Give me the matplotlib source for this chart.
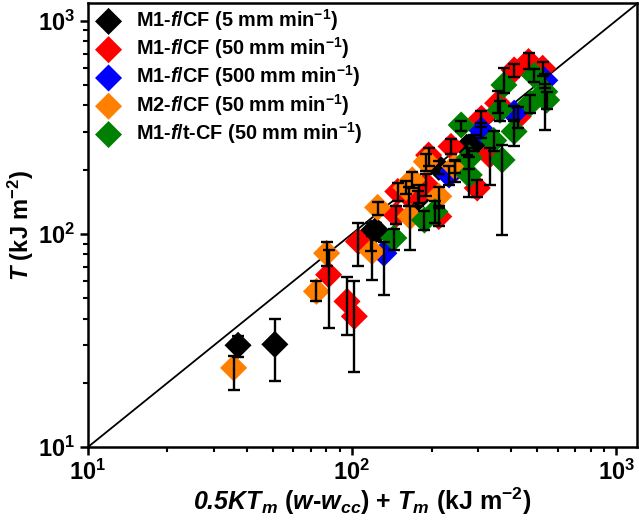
import matplotlib
matplotlib.use("Agg")
import matplotlib.pyplot as plt
from matplotlib.ticker import FixedLocator, FixedFormatter, LogLocator, NullFormatter
import numpy as np

plt.rcParams['font.family'] = ['Liberation Sans', 'DejaVu Sans']
plt.rcParams['font.weight'] = 'bold'
plt.rcParams['mathtext.fontset'] = 'custom'
plt.rcParams['mathtext.rm'] = 'Liberation Sans:bold'
plt.rcParams['mathtext.bf'] = 'Liberation Sans:bold'
plt.rcParams['mathtext.it'] = 'Liberation Sans:bold:italic'
plt.rcParams['mathtext.sf'] = 'Liberation Sans:bold:italic'
plt.rcParams['mathtext.default'] = 'rm'

# ---- data ----
labels = [r'M1-$\mathsf{f}$/CF (5 mm min$^{-1}$)',
          r'M1-$\mathsf{f}$/CF (50 mm min$^{-1}$)',
          r'M1-$\mathsf{f}$/CF (500 mm min$^{-1}$)',
          r'M2-$\mathsf{f}$/CF (50 mm min$^{-1}$)',
          r'M1-$\mathsf{f}$/t-CF (50 mm min$^{-1}$)']
colors = ['#000000', '#ff0000', '#0000ff', '#ff8000', '#008000']

black_x = [37, 51, 118, 123, 178, 213, 272, 290]
black_y = [30, 30.3, 101, 104, 147, 205, 255, 265]
black_lo = [3.5, 10, 18, 10, 12, 15, 20, 20]
black_hi = [3, 9.5, 12, 8, 12, 15, 20, 25]

red_x = [81.5, 95.7, 102, 105.7, 146.6, 149, 165, 191, 195, 213, 237, 245,
         298, 332, 309, 356, 411, 466, 527, 426, 180]
red_y = [64.3, 48.2, 41, 92, 122.7, 158, 150, 170, 234, 120.5, 257, 200,
         164, 234, 348, 410, 587, 643, 598, 355, 155]
red_lo = [28.2, 14.6, 18.4, 21.7, 12, 15, 15, 20, 25, 12, 20, 25,
          15, 64, 30, 40, 40, 50, 50, 40, 15]
red_hi = [19.7, 14.8, 18.8, 20, 12, 15, 15, 20, 20, 12, 20, 20,
          15, 20, 30, 60, 40, 60, 40, 40, 15]

blue_x = [132, 233, 309, 411, 537]
blue_y = [81.1, 189, 307, 368, 525]
blue_lo = [29.3, 20, 25, 30, 40]
blue_hi = [10, 20, 25, 30, 40]

orange_x = [35.6, 73.3, 80.1, 119, 125, 166, 169, 191, 213, 245, 160]
orange_y = [23.5, 53.7, 81.1, 82.6, 133, 120.5, 179, 218, 150, 207, 165]
orange_lo = [4.9, 5.5, 10.8, 21.8, 10, 36.5, 15, 20, 15, 15, 12]
orange_hi = [3.1, 6.1, 10.9, 15, 8, 15, 15, 20, 15, 15, 12]

green_x = [144, 188, 206, 259, 278, 278, 344, 370, 376, 363, 411, 474, 490, 537, 546]
green_y = [95.6, 116, 127, 324, 227, 189, 274, 222, 499, 380, 302, 410, 554, 464, 424]
green_lo = [12, 12, 15, 20, 25, 40, 30, 123, 40, 40, 45, 40, 40, 157, 40]
green_hi = [10, 12, 15, 15, 25, 40, 30, 40, 99, 40, 40, 40, 40, 40, 40]

line_x = [10, 1200]

xticks = [10, 100, 1000]
xticklabels = [r'$10^{1}$', r'$10^{2}$', r'$10^{3}$']
yticks = [10, 100, 1000]
yticklabels = [r'$10^{1}$', r'$10^{2}$', r'$10^{3}$']

series = [
    (black_x, black_y, black_lo, black_hi),
    (red_x, red_y, red_lo, red_hi),
    (blue_x, blue_y, blue_lo, blue_hi),
    (orange_x, orange_y, orange_lo, orange_hi),
    (green_x, green_y, green_lo, green_hi),
]

fig = plt.figure(figsize=(6.39, 5.29), dpi=100)
ax = fig.add_axes([88/639, 1 - 447/529, 549/639, 444/529])

ax.plot(line_x, line_x, color='black', lw=1.3, zorder=1)

handles = []
for (x, y, lo, hi), c, lab in zip(series, colors, labels):
    h = ax.scatter(x, y, marker='D', s=190, color=c, edgecolors='none',
                   zorder=2, label=lab)
    ax.errorbar(x, y, yerr=[lo, hi], fmt='none', ecolor='black',
                elinewidth=1.7, capsize=4.5, capthick=1.7, zorder=3)
    handles.append(h)

ax.set_xscale('log')
ax.set_yscale('log')
ax.set_xlim(10, 1200)
ax.set_ylim(10, 1210)

ax.xaxis.set_major_locator(FixedLocator(xticks))
ax.xaxis.set_major_formatter(FixedFormatter(xticklabels))
ax.yaxis.set_major_locator(FixedLocator(yticks))
ax.yaxis.set_major_formatter(FixedFormatter(yticklabels))
ax.xaxis.set_minor_locator(LogLocator(base=10, subs=np.arange(2, 10)))
ax.yaxis.set_minor_locator(LogLocator(base=10, subs=np.arange(2, 10)))
ax.xaxis.set_minor_formatter(NullFormatter())
ax.yaxis.set_minor_formatter(NullFormatter())

ax.tick_params(which='major', direction='out', length=6, width=1.8,
               labelsize=17, pad=3)
ax.tick_params(which='minor', direction='out', length=3.5, width=1.5)
for sp in ax.spines.values():
    sp.set_linewidth(1.8)

ax.set_xlabel(r'$\mathsf{0.5KT_m}$ ($\mathsf{w}$-$\mathsf{w_{cc}}$) + $\mathsf{T_m}$ (kJ m$^{-2}$)',
              fontsize=18, fontweight='bold', labelpad=1)
ax.set_ylabel(r'$\mathsf{T}$ (kJ m$^{-2}$)', fontsize=17, fontweight='bold', labelpad=2)

leg = ax.legend(handles=handles, loc='upper left', bbox_to_anchor=(-0.006, 1.018),
                frameon=False, fontsize=14.3, handletextpad=0.8,
                labelspacing=0.12, borderaxespad=0.2, handlelength=1.2,
                scatterpoints=1)
for t in leg.get_texts():
    t.set_fontweight('bold')

fig.savefig('out.png', dpi=100)
